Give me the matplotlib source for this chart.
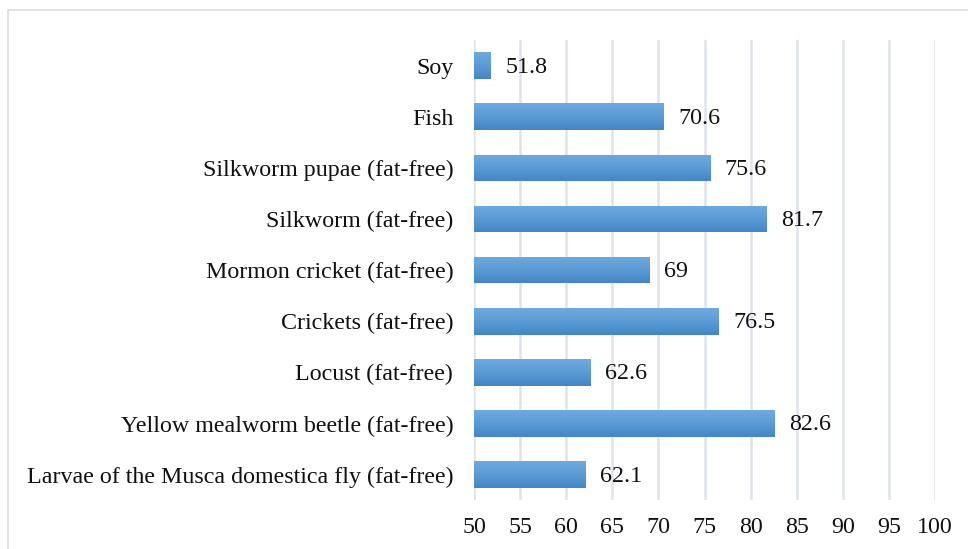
import numpy as np
import matplotlib.pyplot as plt
from matplotlib.patches import Rectangle
from matplotlib.colors import LinearSegmentedColormap

plt.rcParams['font.family'] = ['Liberation Serif', 'DejaVu Serif']

categories = [
    "Larvae of the Musca domestica fly (fat-free)",
    "Yellow mealworm beetle (fat-free)",
    "Locust (fat-free)",
    "Crickets (fat-free)",
    "Mormon cricket (fat-free)",
    "Silkworm (fat-free)",
    "Silkworm pupae (fat-free)",
    "Fish",
    "Soy",
]
values = [62.1, 82.6, 62.6, 76.5, 69, 81.7, 75.6, 70.6, 51.8]
value_labels = ["62.1", "82.6", "62.6", "76.5", "69", "81.7", "75.6", "70.6", "51.8"]
xticks = list(range(50, 101, 5))

fig = plt.figure(figsize=(9.68, 5.49), dpi=100)
ax = fig.add_axes([0.4897, 0.089, 0.4762, 0.838])

# light frame around the chart area
fig.patches.append(Rectangle((8 / 968, -0.05), 1.0, 1 - 10 / 549 + 0.05,
                             transform=fig.transFigure, fill=False,
                             edgecolor='#d9dde6', linewidth=1.2))

y = np.arange(len(categories))
bars = ax.barh(y, [v - 50 for v in values], left=50, height=0.52,
               color='#5b9bd5', edgecolor='none', zorder=2)

# vertical gradient inside each bar, lighter on top
cmap = LinearSegmentedColormap.from_list('bar', ['#4485c6', '#5b9bd5', '#6fa9de'])
grad = np.linspace(0, 1, 64).reshape(-1, 1)
for b in bars:
    x0, y0 = b.get_x(), b.get_y()
    w, h = b.get_width(), b.get_height()
    im = ax.imshow(grad, cmap=cmap, aspect='auto', origin='lower',
                   extent=[x0, x0 + w, y0, y0 + h], zorder=3)
    im.set_clip_path(b)

for yi, v, lab in zip(y, values, value_labels):
    ax.text(v + 1.6, yi - 0.03, lab, va='center', ha='left', fontsize=17.3, color='#111111')

ax.set_xlim(50, 100)
ax.set_ylim(-0.5, len(categories) - 0.5)
ax.set_xticks(xticks)
ax.set_yticks(y)
ax.set_yticklabels(categories)
ax.tick_params(axis='both', length=0, labelsize=17.3, labelcolor='#111111')
ax.tick_params(axis='y', pad=15)
ax.tick_params(axis='x', pad=12)
ax.xaxis.grid(True, color='#dfe3ec', linewidth=1.8, zorder=0)
ax.set_axisbelow(True)
for s in ax.spines.values():
    s.set_visible(False)

fig.savefig('out.png', dpi=100)
